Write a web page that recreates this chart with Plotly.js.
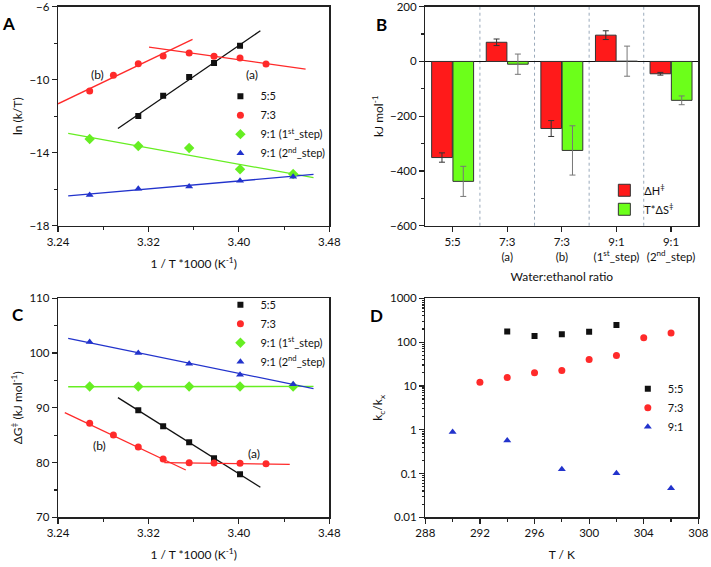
<!DOCTYPE html>
<html>
<head>
<meta charset="utf-8">
<script src="https://cdn.plot.ly/plotly-3.0.1.min.js"></script>
<style>
  body { margin: 0; background: #fff; }
  #myPlot { width: 711px; height: 567px; }
</style>
</head>
<body>
<div id="myPlot"></div>
<script>
// ---- panel A : ln(k/T) vs 1/T*1000 ----
const invT_55 = [3.311, 3.333, 3.356, 3.378, 3.401];
const lnkT_55 = [-11.99, -10.88, -9.85, -9.09, -8.14];
const invT_73 = [3.268, 3.289, 3.311, 3.333, 3.356, 3.378, 3.401, 3.424];
const lnkT_73 = [-10.62, -9.76, -9.12, -8.70, -8.54, -8.72, -8.81, -9.14];
const invT_91 = [3.268, 3.311, 3.356, 3.401, 3.448];
const lnkT_91a = [-13.25, -13.63, -13.74, -14.91, -15.17];
const lnkT_91b = [-16.32, -15.97, -15.85, -15.53, -15.32];

// fitted lines (end points)
const fitA_55 = {x: [3.293, 3.419], y: [-12.67, -7.32]};
const fitA_73b = {x: [3.240, 3.359], y: [-11.32, -7.79]};
const fitA_73a = {x: [3.3205, 3.459], y: [-8.21, -9.42]};
const fitA_91a = {x: [3.249, 3.466], y: [-12.94, -15.37]};
const fitA_91b = {x: [3.249, 3.466], y: [-16.37, -15.19]};

// ---- panel B : activation parameters ----
const ratios = ['5:5', '7:3<br>(a)', '7:3<br>(b)', '9:1<br>(1<sup>st</sup>_step)', '9:1<br>(2<sup>nd</sup>_step)'];
const dH = [-351, 70, -245, 96, -45];
const dH_err = [17, 12, 29, 16, 5];
const TdS = [-438, -10, -325, 1, -142];
const TdS_err = [55, 37, 90, 55, 16];

// ---- panel C : dG vs 1/T*1000 ----
const dG_55 = [89.54, 86.62, 83.70, 80.78, 77.85];
const dG_73 = [87.17, 85.04, 82.85, 80.65, 79.98, 79.92, 79.86, 79.80];
const dG_91a = [93.9, 93.9, 93.9, 93.9, 93.9];
const dG_91b = [102.0, 100.0, 98.07, 96.06, 94.29];

const fitC_55 = {x: [3.293, 3.419], y: [91.86, 75.48]};
const fitC_73b = {x: [3.246, 3.353], y: [89.12, 78.65]};
const fitC_73a = {x: [3.334, 3.445], y: [79.98, 79.68]};
const fitC_91a = {x: [3.249, 3.466], y: [93.85, 93.9]};
const fitC_91b = {x: [3.249, 3.466], y: [102.69, 93.5]};

// ---- panel D : kc/kx vs T ----
const T_55 = [294, 296, 298, 300, 302];
const r_55 = [175, 137, 152, 173, 245];
const T_73 = [292, 294, 296, 298, 300, 302, 304, 306];
const r_73 = [12.1, 15.5, 19.9, 22.5, 40.1, 49.5, 126, 161];
const T_91 = [290, 294, 298, 302, 306];
const r_91 = [0.885, 0.57, 0.126, 0.102, 0.046];

const FONT = 'Lato, "Open Sans", sans-serif';
const c_black = '#111111';
const c_red = '#ff2a2a';
const c_green = '#66ee22';
const c_blue = '#2233cc';

function pts(x, y, name, color, symbol, size, xa, ya, legend) {
  return {
    x: x, y: y, name: name, mode: 'markers', type: 'scatter',
    marker: {color: color, symbol: symbol, size: size},
    xaxis: xa, yaxis: ya, legend: legend
  };
}

function fit(line, color, xa, ya) {
  return {
    x: line.x, y: line.y, mode: 'lines', type: 'scatter',
    line: {color: color, width: 1.3},
    xaxis: xa, yaxis: ya, showlegend: false, hoverinfo: 'skip'
  };
}

const data = [
  // A
  fit(fitA_55, c_black, 'x', 'y'),
  fit(fitA_73b, c_red, 'x', 'y'),
  fit(fitA_73a, c_red, 'x', 'y'),
  fit(fitA_91a, c_green, 'x', 'y'),
  fit(fitA_91b, c_blue, 'x', 'y'),
  pts(invT_55, lnkT_55, '5:5', c_black, 'square', 6, 'x', 'y', 'legend'),
  pts(invT_73, lnkT_73, '7:3', c_red, 'circle', 7, 'x', 'y', 'legend'),
  pts(invT_91, lnkT_91a, '9:1 (1<sup>st</sup>_step)', c_green, 'diamond', 8, 'x', 'y', 'legend'),
  pts(invT_91, lnkT_91b, '9:1 (2<sup>nd</sup>_step)', c_blue, 'triangle-up', 7, 'x', 'y', 'legend'),
  // B
  {
    x: ratios, y: dH, name: 'ΔH<sup>‡</sup>', type: 'bar',
    marker: {color: '#ff1a1a', line: {color: '#333', width: 1}},
    error_y: {type: 'data', array: dH_err, color: '#333', thickness: 1, width: 3},
    xaxis: 'x2', yaxis: 'y2', legend: 'legend2'
  },
  {
    x: ratios, y: TdS, name: 'T*ΔS<sup>‡</sup>', type: 'bar',
    marker: {color: '#6cff1a', line: {color: '#333', width: 1}},
    error_y: {type: 'data', array: TdS_err, color: '#777', thickness: 1, width: 3},
    xaxis: 'x2', yaxis: 'y2', legend: 'legend2'
  },
  // C
  fit(fitC_55, c_black, 'x3', 'y3'),
  fit(fitC_73b, c_red, 'x3', 'y3'),
  fit(fitC_73a, c_red, 'x3', 'y3'),
  fit(fitC_91a, c_green, 'x3', 'y3'),
  fit(fitC_91b, c_blue, 'x3', 'y3'),
  pts(invT_55, dG_55, '5:5', c_black, 'square', 6, 'x3', 'y3', 'legend3'),
  pts(invT_73, dG_73, '7:3', c_red, 'circle', 7, 'x3', 'y3', 'legend3'),
  pts(invT_91, dG_91a, '9:1 (1<sup>st</sup>_step)', c_green, 'diamond', 8, 'x3', 'y3', 'legend3'),
  pts(invT_91, dG_91b, '9:1 (2<sup>nd</sup>_step)', c_blue, 'triangle-up', 7, 'x3', 'y3', 'legend3'),
  // D
  pts(T_55, r_55, '5:5', c_black, 'square', 6, 'x4', 'y4', 'legend4'),
  pts(T_73, r_73, '7:3', c_red, 'circle', 7, 'x4', 'y4', 'legend4'),
  pts(T_91, r_91, '9:1', c_blue, 'triangle-up', 7, 'x4', 'y4', 'legend4')
];

function axis(extra) {
  const base = {
    showline: true, mirror: true, linecolor: '#222', linewidth: 1.3,
    showgrid: false, zeroline: false, ticklabeloverflow: 'allow',
    ticks: 'outside', ticklen: 5, tickcolor: '#222', tickwidth: 1.2,
    tickfont: {family: FONT, size: 11.5, color: '#111'},
    title: {font: {family: FONT, size: 12, color: '#111'}}
  };
  return Object.assign(base, extra);
}

const xL = [0.0816, 0.4632];
const xR = [0.5982, 0.9822];
const yT = [0.6019, 0.9882];
const yB = [0.0876, 0.4739];

// dotted separators between the ratio groups
const dividers = [];
for (let i = 1; i < ratios.length; i++) {
  dividers.push({
    type: 'line', xref: 'x2', yref: 'y2 domain', x0: i - 0.5, x1: i - 0.5, y0: 0, y1: 1,
    line: {color: '#9aaabb', width: 1, dash: 'dot'}, layer: 'below'
  });
}

function legendBox(x, y) {
  return {
    x: x, y: y, xref: 'paper', yref: 'paper', xanchor: 'left', yanchor: 'top',
    bgcolor: 'rgba(0,0,0,0)',
    font: {family: FONT, size: 11, color: '#111'}, tracegroupgap: 0
  };
}

function label(text, x, y) {
  return {text: '<b>' + text + '</b>', xref: 'paper', yref: 'paper', x: x, y: y,
    xanchor: 'center', yanchor: 'middle',
    showarrow: false, font: {family: FONT, size: 17, color: '#000'}};
}

function note(text, xa, ya, x, y) {
  return {text: text, xref: xa, yref: ya, x: x, y: y, showarrow: false,
    font: {family: FONT, size: 12, color: '#111'}};
}

const layout = {
  width: 711, height: 567,
  margin: {l: 0, r: 0, t: 0, b: 0},
  paper_bgcolor: '#fff', plot_bgcolor: '#fff',
  font: {family: FONT, color: '#111'},
  barmode: 'group', bargap: 0.22, bargroupgap: 0.03,
  xaxis: axis({domain: xL, anchor: 'y', range: [3.24, 3.48], tick0: 3.24, dtick: 0.08,
    tickformat: '.2f', minor: {dtick: 0.04, ticks: 'outside', ticklen: 3, tickcolor: '#222'},
    title: {text: '1 / T *1000 (K<sup>-1</sup>)', standoff: 12, font: {family: FONT, size: 12}}}),
  yaxis: axis({domain: yT, anchor: 'x', range: [-18, -6], tick0: -18, dtick: 4,
    minor: {dtick: 2, ticks: 'outside', ticklen: 3, tickcolor: '#222'},
    title: {text: 'ln (k/T)', standoff: 4, font: {family: FONT, size: 12}}}),
  xaxis2: axis({domain: xR, anchor: 'y2', type: 'category', range: [-0.5, 4.5],
    title: {text: 'Water:ethanol ratio', standoff: 10, font: {family: FONT, size: 12}}}),
  yaxis2: axis({domain: yT, anchor: 'x2', range: [-600, 200], tick0: -600, dtick: 200,
    zeroline: true, zerolinecolor: '#111', zerolinewidth: 1.2,
    minor: {dtick: 100, ticks: 'outside', ticklen: 3, tickcolor: '#222'},
    title: {text: 'kJ mol<sup>-1</sup>', standoff: 3, font: {family: FONT, size: 12}}}),
  xaxis3: axis({domain: xL, anchor: 'y3', range: [3.24, 3.48], tick0: 3.24, dtick: 0.08,
    tickformat: '.2f', minor: {dtick: 0.04, ticks: 'outside', ticklen: 3, tickcolor: '#222'},
    title: {text: '1 / T *1000 (K<sup>-1</sup>)', standoff: 12, font: {family: FONT, size: 12}}}),
  yaxis3: axis({domain: yB, anchor: 'x3', range: [70, 110], tick0: 70, dtick: 10,
    minor: {dtick: 5, ticks: 'outside', ticklen: 3, tickcolor: '#222'},
    title: {text: 'ΔG<sup>‡</sup> (kJ mol<sup>-1</sup>)', standoff: 4, font: {family: FONT, size: 12}}}),
  xaxis4: axis({domain: xR, anchor: 'y4', range: [288, 308], tick0: 288, dtick: 4,
    minor: {dtick: 2, ticks: 'outside', ticklen: 3, tickcolor: '#222'},
    title: {text: 'T / K', standoff: 12, font: {family: FONT, size: 12}}}),
  yaxis4: axis({domain: yB, anchor: 'x4', type: 'log', range: [-2, 3], dtick: 1,
    minor: {ticks: 'outside', ticklen: 2, tickcolor: '#222'},
    title: {text: 'k<sub>c</sub>/k<sub>x</sub>', standoff: 4, font: {family: FONT, size: 12}}}),
  legend: legendBox(0.31, 0.856),
  legend2: legendBox(0.85, 0.69),
  legend3: legendBox(0.31, 0.488),
  legend4: legendBox(0.883, 0.34),
  shapes: dividers,
  annotations: [
    label('A', 0.012, 0.958),
    label('B', 0.536, 0.956),
    label('C', 0.025, 0.446),
    label('D', 0.530, 0.444),
    note('(b)', 'x', 'y', 3.2745, -9.74),
    note('(a)', 'x', 'y', 3.4116, -9.74),
    note('(b)', 'x3', 'y3', 3.2763, 83.2),
    note('(a)', 'x3', 'y3', 3.4134, 81.7)
  ]
};

Plotly.newPlot('myPlot', data, layout, {staticPlot: true});
</script>
</body>
</html>
